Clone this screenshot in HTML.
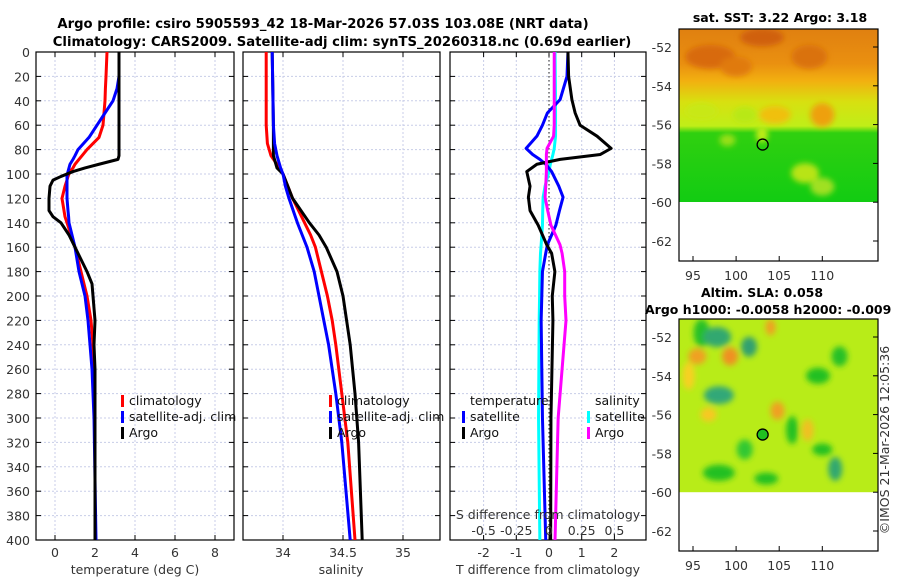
<!DOCTYPE html>
<html><head><meta charset="utf-8"><style>
body{margin:0;background:#fff;}
svg{display:block;font-family:"DejaVu Sans","Liberation Sans",sans-serif;}
.tk{font-size:12.5px;fill:#333;}
.tt{font-size:12.5px;font-weight:bold;fill:#000;}
.tt2{font-size:13.2px;font-weight:bold;fill:#000;}
.lg{font-size:12.5px;fill:#111;}
</style></head><body>
<svg id="c" width="900" height="580">
<defs>
<clipPath id="cp1"><rect x="36" y="52" width="198" height="488"/></clipPath>
<clipPath id="cp2"><rect x="243" y="52" width="197" height="488"/></clipPath>
<clipPath id="cp3"><rect x="450" y="52" width="196" height="488"/></clipPath>
<clipPath id="m1c"><rect x="679" y="29" width="199" height="173"/></clipPath>
<clipPath id="m2c"><rect x="679" y="319" width="199" height="174"/></clipPath>
<filter id="bl" x="-20%" y="-20%" width="140%" height="140%"><feGaussianBlur stdDeviation="3"/></filter>
</defs>
<text class="tt2" x="323" y="28" text-anchor="middle">Argo profile: csiro 5905593_42 18-Mar-2026 57.03S 103.08E (NRT data)</text>
<text class="tt2" x="342" y="46" text-anchor="middle">Climatology: CARS2009. Satellite-adj clim: synTS_20260318.nc (0.69d earlier)</text>
<g id="g"></g>
<text x="889" y="440" transform="rotate(-90 889 440)" text-anchor="middle" class="tk">©IMOS 21-Mar-2026 12:05:36</text>
</svg>
<script>
const depthTicks=[0,20,40,60,80,100,120,140,160,180,200,220,240,260,280,300,320,340,360,380,400];
// temperature panel
const tDepth=[0,20,30,40,50,60,70,80,85,88,92,95,98,102,105,110,120,130,135,140,150,160,180,190,200,220,240,260,300,400];
const tClim=[2.6,2.55,2.52,2.5,2.45,2.4,2.2,1.6,1.35,1.2,1.0,0.9,0.75,0.65,0.6,0.5,0.35,0.45,0.5,0.6,0.8,1.0,1.3,1.45,1.6,1.8,1.9,1.95,2.0,2.0];
const tSat=[3.2,3.2,3.1,2.9,2.5,2.1,1.7,1.15,1.0,0.9,0.75,0.7,0.65,0.6,0.6,0.6,0.6,0.65,0.68,0.7,0.85,1.0,1.2,1.35,1.5,1.65,1.75,1.85,1.95,2.05];
const tArgo=[3.2,3.2,3.2,3.2,3.2,3.2,3.2,3.2,3.2,3.15,2.2,1.5,0.9,0.3,-0.1,-0.25,-0.3,-0.3,-0.1,0.3,0.7,1.0,1.6,1.85,1.9,2.0,1.95,2.0,2.0,2.0];
const tTicks=[0,2,4,6,8];
// salinity panel
const sDepth=[0,60,75,85,95,100,110,120,140,150,160,180,200,220,240,280,320,400];
const sClim=[33.86,33.86,33.87,33.9,33.97,34.0,34.04,34.08,34.18,34.23,34.27,34.32,34.37,34.41,34.44,34.49,34.54,34.6];
const sSat=[33.91,33.92,33.93,33.95,33.98,34.0,34.02,34.05,34.12,34.16,34.2,34.26,34.3,34.34,34.38,34.44,34.49,34.56];
const sArgo=[33.91,33.92,33.92,33.92,33.95,34.0,34.04,34.08,34.22,34.3,34.36,34.45,34.5,34.53,34.56,34.6,34.63,34.66];
const sTicks=[34,34.5,35];
const sTickLabels=["34","34.5","35"];
// difference panel
const dDepth=[0,20,39,50,60,69,79,84,88,92,98,110,119,130,142,158,165,180,200,220,300,400];
const dTSat=[0.58,0.55,0.34,-0.05,-0.2,-0.37,-0.7,-0.5,-0.28,-0.1,0.08,0.3,0.43,0.32,0.21,-0.05,-0.1,-0.2,-0.22,-0.24,-0.2,-0.1];
const dTArgo=[0.58,0.6,0.7,0.8,0.95,1.47,1.9,1.57,0.34,-0.37,-0.68,-0.58,-0.63,-0.58,-0.33,-0.07,0.08,0.18,0.1,0.12,0.06,0.05];
const dSSat=[0.046,0.048,0.05,0.05,0.05,0.05,0.04,0.03,0.02,0.01,0,-0.03,-0.045,-0.048,-0.05,-0.06,-0.065,-0.07,-0.072,-0.075,-0.08,-0.07];
const dSArgo=[0.04,0.04,0.04,0.04,0.04,0.035,-0.015,-0.02,-0.02,-0.02,-0.02,-0.025,-0.03,-0.01,0.015,0.084,0.1,0.12,0.12,0.13,0.07,0.046];
const dTTicks=[-2,-1,0,1,2];
const dSTicks=[-0.5,-0.25,0,0.25,0.5];
const dSTickLabels=["-0.5","-0.25","0","0.25","0.5"];
// maps
const mapLonTicks=[95,100,105,110];
const mapLatTicks=[-52,-54,-56,-58,-60,-62];
const argoLon=103.08, argoLat=-57.03;

const NS="http://www.w3.org/2000/svg";
const G=document.getElementById('g');
function el(t,a,p){const e=document.createElementNS(NS,t);for(const k in a)e.setAttribute(k,a[k]);(p||G).appendChild(e);return e;}
const yD=d=>52+d*1.22;
function panel(x0,x1,xf,ticks,labels,name){
  const gg=el('g',{});
  
  
  depthTicks.forEach(d=>{el('line',{x1:x0,x2:x1,y1:yD(d),y2:yD(d),stroke:'#c8cde8','stroke-dasharray':'2,2','stroke-width':1},gg);});
  ticks.forEach((v,i)=>{const x=xf(v);el('line',{x1:x,x2:x,y1:52,y2:540,stroke:'#c8cde8','stroke-dasharray':'2,2'},gg);
    el('line',{x1:x,x2:x,y1:540,y2:535,stroke:'#000'},gg);el('line',{x1:x,x2:x,y1:52,y2:57,stroke:'#000'},gg);
    const t=el('text',{x:x,y:557,'text-anchor':'middle',class:'tk'},gg);t.textContent=labels[i];
    });
  depthTicks.forEach(d=>{el('line',{x1:x0,x2:x0+5,y1:yD(d),y2:yD(d),stroke:'#000'},gg);el('line',{x1:x1-5,x2:x1,y1:yD(d),y2:yD(d),stroke:'#000'},gg);});
  el('rect',{x:x0,y:52,width:x1-x0,height:488,fill:'none',stroke:'#000','stroke-width':1.2},gg);
  return gg;
}
function line(xs,ds,xf,color,clip,name,w){
  const p=el('polyline',{points:xs.map((v,i)=>xf(v)+','+yD(ds[i])).join(' '),fill:'none',stroke:color,'stroke-width':w||3,'stroke-linejoin':'round','clip-path':'url(#'+clip+')'});
  
  
}
function txt(x,y,s,cls,anchor,name){const t=el('text',{x:x,y:y,class:cls,'text-anchor':anchor||'start'});t.textContent=s;
  return t;}
function legMark(x,y,c){el('rect',{x:x,y:y-10,width:3,height:12,fill:c});}

depthTicks.forEach(d=>{txt(30,yD(d)+5,String(d),'tk','end','y-tick-label');});

// Panel 1
const xT=v=>55+20*v;
panel(36,234,xT,tTicks,tTicks.map(String),'temperature-panel');
line(tClim,tDepth,xT,'#f00','cp1','climatology-temp-line');
line(tSat,tDepth,xT,'#00f','cp1','satellite-temp-line');
line(tArgo,tDepth,xT,'#000','cp1','argo-temp-line');
txt(135,574,'temperature (deg C)','tk','middle','temperature-axis-title');
legMark(121,405,'#f00');txt(129,405,'climatology','lg','start','legend-climatology');
legMark(121,421,'#00f');txt(129,421,'satellite-adj. clim','lg','start','legend-satellite');
legMark(121,437,'#000');txt(129,437,'Argo','lg','start','legend-argo');

// Panel 2
const xS=v=>283+120*(v-34);
panel(243,440,xS,sTicks,sTickLabels,'salinity-panel');
line(sClim,sDepth,xS,'#f00','cp2','climatology-sal-line');
line(sArgo,sDepth,xS,'#000','cp2','argo-sal-line');
line(sSat,sDepth,xS,'#00f','cp2','satellite-sal-line');
txt(341,574,'salinity','tk','middle','salinity-axis-title');
legMark(329,405,'#f00');txt(337,405,'climatology','lg','start','legend-climatology-2');
legMark(329,421,'#00f');txt(337,421,'satellite-adj. clim','lg','start','legend-satellite-2');
legMark(329,437,'#000');txt(337,437,'Argo','lg','start','legend-argo-2');

// Panel 3
const xDT=v=>549+32.7*v;
const xDS=v=>549+130.8*v;
panel(450,646,xDT,dTTicks,dTTicks.map(String),'difference-panel');
el('line',{x1:549,x2:549,y1:52,y2:540,stroke:'#444','stroke-dasharray':'1.5,2.5','stroke-width':1.2});
line(dSSat,dDepth,xDS,'#0ff','cp3','satellite-sal-diff-line');
line(dTSat,dDepth,xDT,'#00f','cp3','satellite-temp-diff-line');
line(dTArgo,dDepth,xDT,'#000','cp3','argo-temp-diff-line');
line(dSArgo,dDepth,xDS,'#f0f','cp3','argo-sal-diff-line');
txt(548,574,'T difference from climatology','tk','middle','t-diff-axis-title');
txt(548,519,'S difference from climatology','tk','middle','s-diff-axis-title');
dSTicks.forEach((v,i)=>txt(xDS(v),535,dSTickLabels[i],'tk','middle','s-diff-tick-label'));
txt(470,405,'temperature','lg','start','legend-temperature-header');
legMark(462,421,'#00f');txt(470,421,'satellite','lg','start','legend-t-satellite');
legMark(462,437,'#000');txt(470,437,'Argo','lg','start','legend-t-argo');
txt(595,405,'salinity','lg','start','legend-salinity-header');
legMark(587,421,'#0ff');txt(595,421,'satellite','lg','start','legend-s-satellite');
legMark(587,437,'#f0f');txt(595,437,'Argo','lg','start','legend-s-argo');

// Maps
function map(top,lat52,clip,name,blobs,base){
  const gg=el('g',{});
  const xL=v=>693+(v-95)*8.62, yL=v=>lat52+(-52-v)*19.4;
  const dataBottom=yL(-60);
  const bg=el('g',{'clip-path':'url(#'+clip+')'},gg);
  base(bg,top,dataBottom);
  const bb=el('g',{filter:'url(#bl)'},bg);
  blobs.forEach(b=>el('ellipse',{cx:xL(b[0]),cy:yL(b[1]),rx:b[2],ry:b[3],fill:b[4]},bb));
  el('rect',{x:679,y:top,width:199,height:232,fill:'none',stroke:'#000','stroke-width':1.2},gg);
  mapLatTicks.forEach(v=>{el('line',{x1:873,x2:878,y1:yL(v),y2:yL(v),stroke:'#000'},gg);
    txt(672,yL(v)+5,String(v),'tk','end','map-lat-label');});
  mapLonTicks.forEach(v=>{el('line',{x1:xL(v),x2:xL(v),y1:top+232,y2:top+227,stroke:'#000'},gg);
    txt(xL(v),top+251,String(v),'tk','middle','map-lon-label');});
  return {xL,yL,gg};
}
const m1=map(29,47,'m1c','sst-map',[
 [97,-52.5,25,12,'#d86a08'],[103,-51.5,22,9,'#d06008'],[108.5,-52.5,18,12,'#da7208'],
 [100,-53,16,10,'#e07a10'],[96,-55.3,16,8,'#c8e818'],[101,-55.5,12,8,'#b8e818'],[104.5,-55.5,16,9,'#f0c010'],
 [110,-55.5,12,12,'#eea010'],[108,-58.5,14,10,'#b8e418'],[110,-59.2,12,9,'#a0e020'],[99,-56.8,8,6,'#9ae018'],[103,-56.5,6,8,'#c0ec18']
],(bg,top,bot)=>{
  const lg=el('linearGradient',{id:'sstg',x1:0,y1:0,x2:0,y2:1},bg);
  [['0','#e08010'],['0.2','#ea9010'],['0.3','#f2b010'],['0.42','#d8e010'],['0.56','#c0ee18'],['0.6','#30d010'],['1','#12cc12']].forEach(s=>el('stop',{offset:s[0],'stop-color':s[1]},lg));
  el('rect',{x:679,y:top,width:199,height:bot-top,fill:'url(#sstg)'},bg);
});
el('circle',{cx:m1.xL(argoLon),cy:m1.yL(argoLat),r:5.5,fill:'none',stroke:'#000','stroke-width':1.3},m1.gg);
txt(780,22,'sat. SST: 3.22 Argo: 3.18','tt','middle','sst-map-title');

const m2=map(319,337,'m2c','sla-map',[
 [96,-51.8,8,14,'#28c028'],[97.8,-52,14,10,'#30a870'],[101.5,-52.5,8,10,'#30a070'],[95.5,-53,9,8,'#f0a020'],[99.3,-53,8,9,'#f09020'],
 [98,-55,15,9,'#30a878'],[96.8,-56,8,7,'#f8c820'],[104.8,-55.8,7,9,'#f0a020'],[108.3,-56.8,6,11,'#f0c020'],
 [106.5,-56.8,6,14,'#20c020'],[111.5,-58.8,7,12,'#30a870'],[98,-59,16,8,'#20c020'],[103.5,-59.3,12,6,'#20c020'],
 [109.5,-54,12,8,'#20c020'],[104,-51.5,5,8,'#f0a020'],[110,-57.8,10,6,'#20c020'],[94.5,-54,6,14,'#f8d020'],[101,-57.8,8,10,'#30c830'],[112,-53,8,10,'#28c028']
],(bg,top,bot)=>{
  el('rect',{x:679,y:top,width:199,height:bot-top,fill:'#b8ec18'},bg);
});
el('circle',{cx:m2.xL(argoLon),cy:m2.yL(argoLat),r:5.5,fill:'#20c020',stroke:'#000','stroke-width':1.3},m2.gg);
txt(762,297,'Altim. SLA: 0.058','tt','middle','sla-map-title');
txt(645,314,'Argo h1000: -0.0058 h2000: -0.009','tt','start','sla-map-subtitle');
</script>
</body></html>
